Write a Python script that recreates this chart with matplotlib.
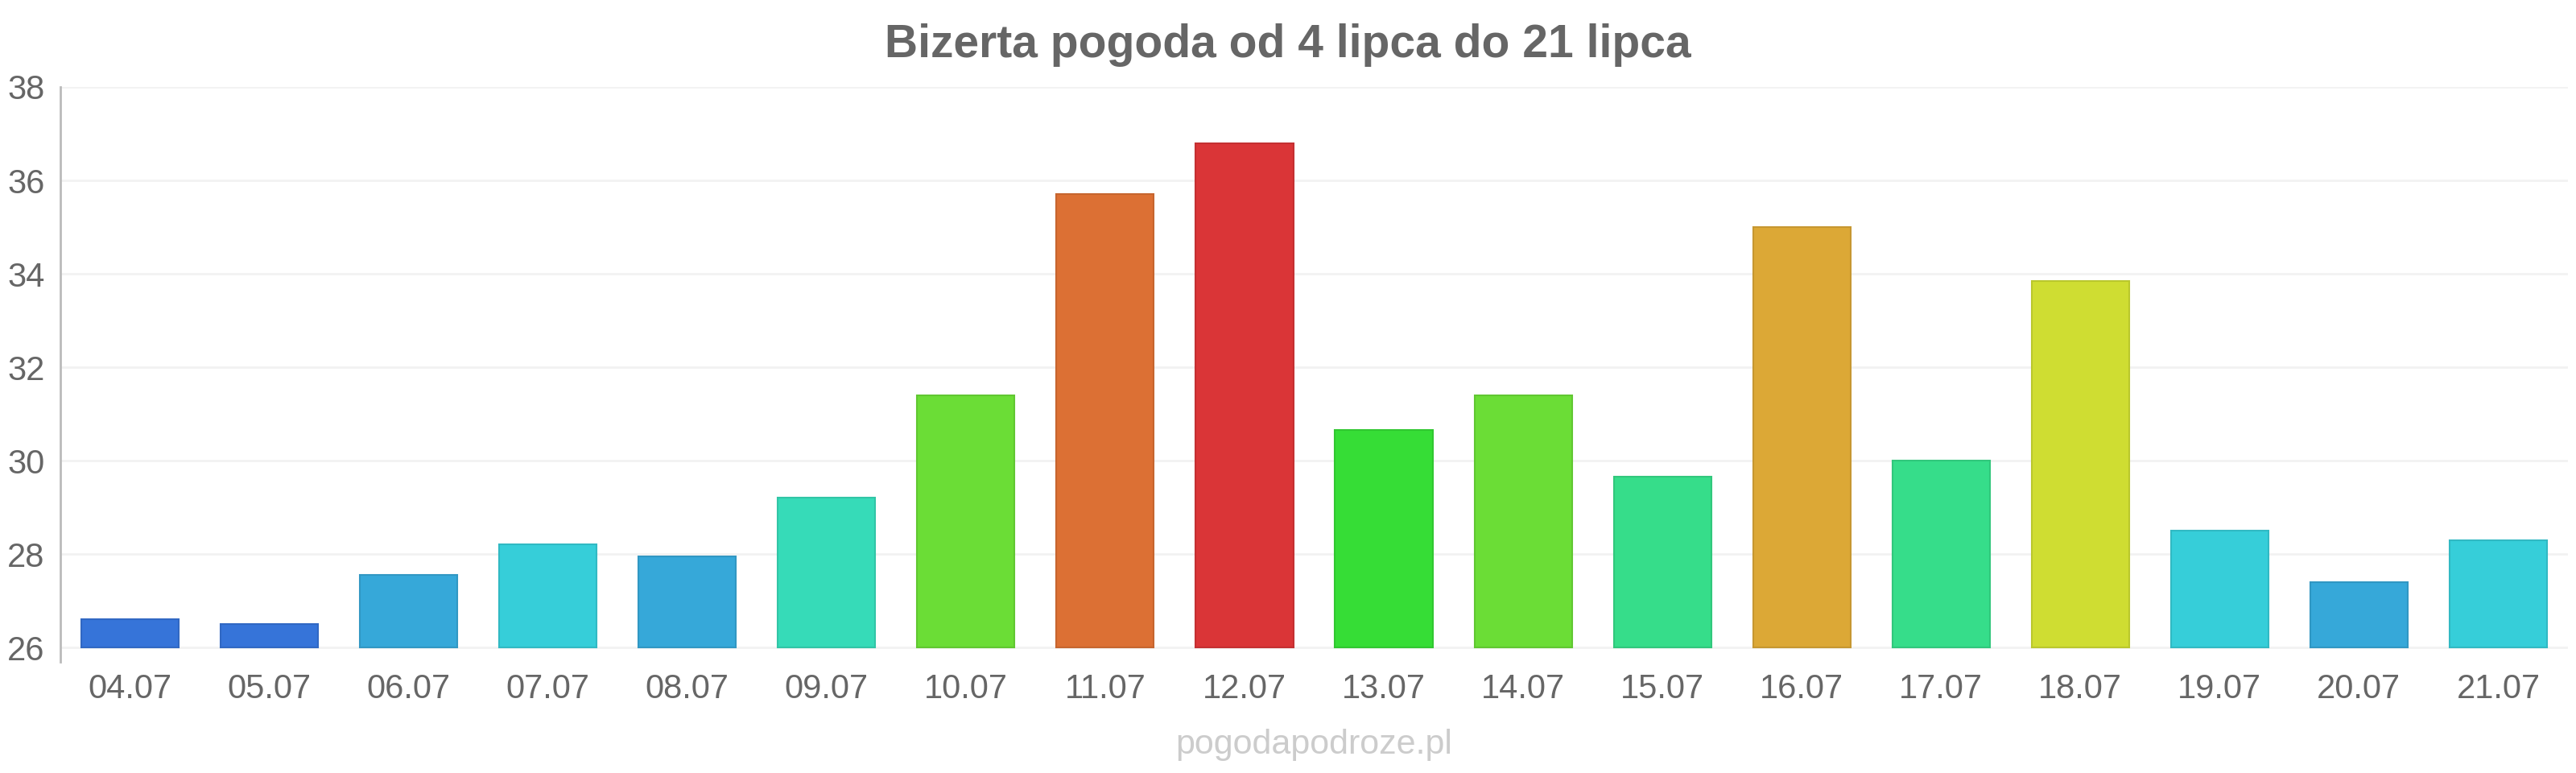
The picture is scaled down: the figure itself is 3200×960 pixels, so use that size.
import matplotlib
matplotlib.use("Agg")
import matplotlib.pyplot as plt
from matplotlib.colors import to_rgb

plt.rcParams['font.family'] = ['Liberation Sans', 'DejaVu Sans']

days = ["04.07", "05.07", "06.07", "07.07", "08.07", "09.07", "10.07", "11.07", "12.07",
        "13.07", "14.07", "15.07", "16.07", "17.07", "18.07", "19.07", "20.07", "21.07"]
temps = [26.6, 26.5, 27.55, 28.2, 27.95, 29.2, 31.4, 35.7, 36.8,
         30.65, 31.4, 29.65, 35.0, 30.0, 33.85, 28.5, 27.4, 28.3]
colors = ["#3674d9", "#3674d9", "#36a8d9", "#36ced9", "#36a8d9", "#36dbb8", "#6bdd36", "#dc7034", "#da3537",
          "#36dd36", "#6bdd36", "#36dd8a", "#dca836", "#36dd8a", "#cfdd32", "#36ced9", "#36a8d9", "#36ced9"]
yticks = [26, 28, 30, 32, 34, 36, 38]
title = "Bizerta pogoda od 4 lipca do 21 lipca"
watermark = "pogodapodroze.pl"

base = 26
fig = plt.figure(figsize=(32, 9.6), dpi=100)
ax = fig.add_axes([75/3200, 1-822/960, (3190-75)/3200, (822-108)/960])

edges = [tuple(c*0.9 for c in to_rgb(col)) for col in colors]
ax.bar(range(len(days)), [t - base for t in temps], bottom=base, width=0.7,
       color=colors, edgecolor=edges, linewidth=1.5, zorder=3)

ax.set_xlim(-0.5, len(days) - 0.5)
ax.set_ylim(25.69, 38)
ax.set_yticks(yticks)
ax.set_xticks(range(len(days)))
ax.set_xticklabels(days)
ax.tick_params(axis='both', colors='#666666', labelsize=30, length=0)
ax.tick_params(axis='x', pad=10)
ax.tick_params(axis='y', pad=14)
for t in ax.get_yticks():
    ax.axhline(t, color='#f2f2f2', linewidth=2, zorder=1)
for s in ['top', 'right', 'bottom']:
    ax.spines[s].set_visible(False)
ax.spines['left'].set_color('#bbbbbb')
ax.spines['left'].set_linewidth(2)

fig.text(0.5, 1-56/960, title, ha='center', va='center', fontsize=41,
         fontweight='bold', color='#666666')
fig.text(1632/3200, 1-925/960, watermark, ha='center', va='center', fontsize=31,
         color='#cccccc')

fig.savefig("out.png", dpi=100, facecolor='white')
